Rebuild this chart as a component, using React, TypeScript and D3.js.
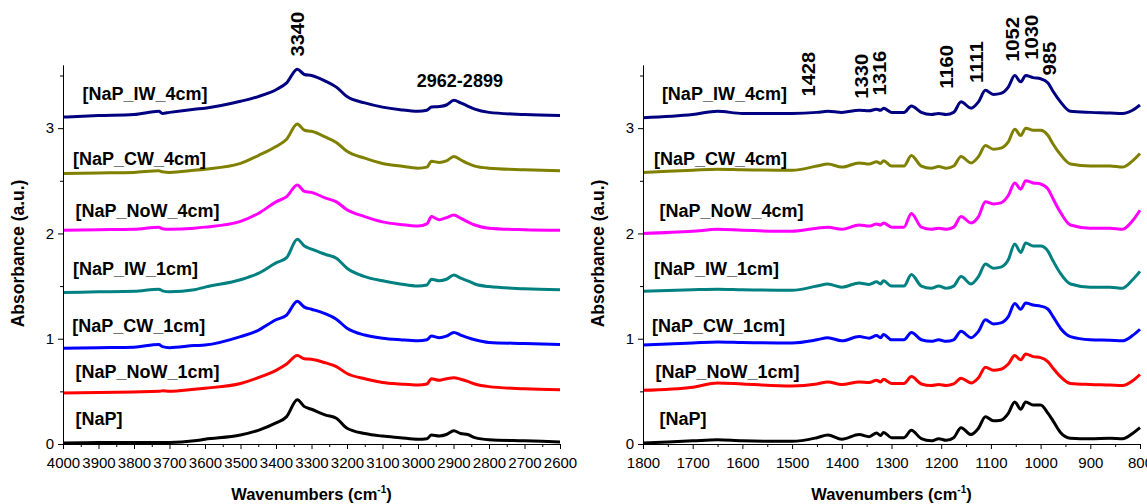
import React, { useEffect, useRef } from 'react'
import * as d3 from 'd3'

// wavenumber knots
const leftWn = [4000, 3900, 3800, 3730, 3720, 3700, 3630, 3600, 3500, 3450, 3400, 3370, 3340, 3320, 3300, 3260, 3230, 3200, 3150, 3100, 3050, 3000, 2975, 2962, 2940, 2920, 2899, 2880, 2860, 2840, 2800, 2700, 2600]
const rightWn = [1800, 1700, 1650, 1600, 1500, 1450, 1428, 1400, 1365, 1345, 1330, 1322, 1316, 1300, 1275, 1260, 1240, 1220, 1205, 1190, 1175, 1160, 1140, 1125, 1111, 1095, 1080, 1065, 1052, 1040, 1030, 1015, 1000, 985, 975, 960, 940, 900, 860, 835, 815, 800]

const seriesNames = ['[NaP]', '[NaP_NoW_1cm]', '[NaP_CW_1cm]', '[NaP_IW_1cm]', '[NaP_NoW_4cm]', '[NaP_CW_4cm]', '[NaP_IW_4cm]']
const seriesColors = ['#000000', '#ff0000', '#0000ff', '#008080', '#ff00ff', '#808000', '#000080']

// absorbance, 4000-2600 cm-1
const leftNaP = [0.01, 0.015, 0.015, 0.015, 0.015, 0.015, 0.03, 0.045, 0.085, 0.13, 0.2, 0.26, 0.42, 0.355, 0.33, 0.275, 0.245, 0.15, 0.1, 0.075, 0.06, 0.045, 0.05, 0.085, 0.075, 0.09, 0.125, 0.1, 0.09, 0.06, 0.04, 0.03, 0.02]
const leftNoW1 = [0.485, 0.49, 0.495, 0.5, 0.505, 0.5, 0.52, 0.53, 0.575, 0.63, 0.7, 0.76, 0.84, 0.81, 0.805, 0.77, 0.735, 0.67, 0.62, 0.585, 0.57, 0.56, 0.57, 0.62, 0.605, 0.62, 0.63, 0.615, 0.595, 0.57, 0.545, 0.525, 0.515]
const leftCW1 = [0.91, 0.915, 0.92, 0.945, 0.925, 0.915, 0.935, 0.94, 1.02, 1.08, 1.18, 1.225, 1.355, 1.3, 1.28, 1.235, 1.185, 1.1, 1.035, 1.005, 0.99, 0.98, 0.99, 1.025, 1.01, 1.025, 1.06, 1.035, 1.01, 0.99, 0.965, 0.955, 0.945]
const leftIW1 = [1.44, 1.445, 1.45, 1.47, 1.455, 1.445, 1.465, 1.49, 1.56, 1.62, 1.72, 1.77, 1.945, 1.88, 1.85, 1.8, 1.765, 1.67, 1.59, 1.55, 1.52, 1.5, 1.51, 1.565, 1.55, 1.565, 1.605, 1.575, 1.55, 1.52, 1.495, 1.475, 1.465]
const leftNoW4 = [2.03, 2.035, 2.04, 2.06, 2.045, 2.04, 2.05, 2.06, 2.115, 2.19, 2.3, 2.35, 2.46, 2.4, 2.39, 2.335, 2.3, 2.225, 2.16, 2.11, 2.085, 2.07, 2.09, 2.16, 2.13, 2.15, 2.175, 2.145, 2.11, 2.08, 2.05, 2.035, 2.03]
const leftCW4 = [2.57, 2.575, 2.58, 2.595, 2.585, 2.58, 2.6, 2.61, 2.665, 2.74, 2.825, 2.895, 3.04, 2.98, 2.97, 2.915, 2.865, 2.78, 2.715, 2.665, 2.64, 2.62, 2.63, 2.685, 2.675, 2.69, 2.73, 2.7, 2.665, 2.64, 2.62, 2.605, 2.595]
const leftIW4 = [3.105, 3.12, 3.13, 3.16, 3.14, 3.15, 3.18, 3.19, 3.255, 3.3, 3.365, 3.43, 3.56, 3.51, 3.5, 3.445, 3.39, 3.3, 3.24, 3.2, 3.175, 3.16, 3.17, 3.2, 3.205, 3.22, 3.265, 3.24, 3.21, 3.18, 3.15, 3.13, 3.12]

// absorbance, 1800-800 cm-1
const rightNaP = [0.01, 0.03, 0.04, 0.03, 0.025, 0.06, 0.085, 0.045, 0.09, 0.07, 0.105, 0.08, 0.11, 0.06, 0.06, 0.13, 0.05, 0.03, 0.05, 0.035, 0.06, 0.155, 0.09, 0.15, 0.26, 0.22, 0.225, 0.29, 0.4, 0.33, 0.4, 0.37, 0.37, 0.29, 0.22, 0.11, 0.055, 0.05, 0.055, 0.05, 0.1, 0.155]
const rightNoW1 = [0.51, 0.54, 0.58, 0.57, 0.55, 0.57, 0.59, 0.565, 0.59, 0.585, 0.605, 0.59, 0.615, 0.575, 0.575, 0.64, 0.57, 0.555, 0.565, 0.555, 0.57, 0.625, 0.58, 0.63, 0.73, 0.7, 0.71, 0.76, 0.84, 0.8, 0.855, 0.83, 0.82, 0.78, 0.72, 0.64, 0.575, 0.565, 0.56, 0.555, 0.6, 0.66]
const rightCW1 = [0.94, 0.96, 0.97, 0.965, 0.96, 0.99, 1.01, 0.98, 1.02, 1.005, 1.03, 1.01, 1.04, 0.99, 0.99, 1.06, 0.99, 0.975, 0.99, 0.975, 0.99, 1.07, 1.01, 1.07, 1.18, 1.14, 1.15, 1.21, 1.335, 1.28, 1.34, 1.32, 1.31, 1.28, 1.21, 1.1, 1.02, 0.99, 0.985, 0.98, 1.03, 1.09]
const rightIW1 = [1.45, 1.465, 1.47, 1.465, 1.46, 1.5, 1.52, 1.49, 1.53, 1.515, 1.54, 1.52, 1.55, 1.5, 1.5, 1.61, 1.5, 1.48, 1.5, 1.48, 1.5, 1.59, 1.52, 1.59, 1.71, 1.67, 1.68, 1.75, 1.9, 1.82, 1.91, 1.88, 1.88, 1.83, 1.74, 1.62, 1.52, 1.49, 1.49, 1.48, 1.56, 1.64]
const rightNoW4 = [2.0, 2.02, 2.04, 2.03, 2.02, 2.05, 2.06, 2.04, 2.08, 2.07, 2.09, 2.08, 2.1, 2.06, 2.06, 2.19, 2.06, 2.04, 2.05, 2.04, 2.06, 2.16, 2.1, 2.16, 2.3, 2.28, 2.29, 2.36, 2.48, 2.42, 2.5, 2.48, 2.47, 2.42, 2.33, 2.2, 2.08, 2.05, 2.05, 2.04, 2.12, 2.22]
const rightCW4 = [2.58, 2.6, 2.61, 2.605, 2.6, 2.64, 2.66, 2.63, 2.67, 2.66, 2.68, 2.665, 2.69, 2.64, 2.64, 2.74, 2.64, 2.62, 2.635, 2.62, 2.64, 2.73, 2.67, 2.73, 2.835, 2.8, 2.81, 2.87, 2.99, 2.93, 3.0, 2.98, 2.98, 2.93, 2.85, 2.75, 2.66, 2.64, 2.64, 2.63, 2.69, 2.76]
const rightIW4 = [3.1, 3.13, 3.16, 3.14, 3.14, 3.15, 3.16, 3.15, 3.17, 3.165, 3.18, 3.17, 3.19, 3.15, 3.15, 3.21, 3.15, 3.13, 3.14, 3.13, 3.15, 3.25, 3.19, 3.25, 3.36, 3.32, 3.33, 3.39, 3.5, 3.44, 3.5, 3.48, 3.47, 3.43, 3.35, 3.25, 3.16, 3.15, 3.145, 3.14, 3.17, 3.22]

const leftSeries = [leftNaP, leftNoW1, leftCW1, leftIW1, leftNoW4, leftCW4, leftIW4]
const rightSeries = [rightNaP, rightNoW1, rightCW1, rightIW1, rightNoW4, rightCW4, rightIW4]

// label anchors in data units [wavenumber, absorbance]
const leftLabelAt = [[3965, 0.18], [3965, 0.625], [3974, 1.067], [3972, 1.61], [3965, 2.16], [3972, 2.65], [3945, 3.27]]
const rightLabelAt = [[1767, 0.18], [1775, 0.625], [1782, 1.067], [1778, 1.61], [1767, 2.16], [1778, 2.65], [1762, 3.27]]

// band assignments
const leftBands = [{ text: '3340', wn: 3340, a: 3.68 }]
const rightBands = [
  { text: '1428', wn: 1467, a: 3.3 },
  { text: '1330', wn: 1360, a: 3.28 },
  { text: '1316', wn: 1325, a: 3.31 },
  { text: '1160', wn: 1189, a: 3.375 },
  { text: '1111', wn: 1128, a: 3.43 },
  { text: '1052', wn: 1057, a: 3.63 },
  { text: '1030', wn: 1019, a: 3.65 },
  { text: '985', wn: 982, a: 3.5 },
]

const W = 1147
const H = 504
const top = 65
const bottom = 444
const font = 'Arial, "Liberation Sans", sans-serif'

const Panel = ({ wn, series, domain, x0, x1, labelAt, bands, extra }) => {
  const axRef = useRef(null)
  const x = d3.scaleLinear().domain(domain).range([x0, x1])
  const y = d3.scaleLinear().domain([0, 3.6]).range([bottom, top])

  useEffect(() => {
    const g = d3.select(axRef.current)
    g.selectAll('*').remove()
    const major = d3.range(domain[1], domain[0] + 1, 100)
    const minor = d3.range(domain[1] + 50, domain[0], 100)

    const xa = g.append('g').attr('transform', `translate(0,${bottom})`)
    xa.call(d3.axisBottom(x).tickValues(major).tickFormat(d3.format('d')).tickSize(5).tickSizeOuter(0).tickPadding(8))
    xa.append('g').call(d3.axisBottom(x).tickValues(minor).tickFormat(() => '').tickSize(3).tickSizeOuter(0))
    xa.selectAll('text').attr('font-size', 15).attr('font-family', font).attr('fill', '#000')

    const ya = g.append('g').attr('transform', `translate(${x0},0)`)
    ya.call(d3.axisLeft(y).tickValues([0, 1, 2, 3]).tickFormat(d3.format('d')).tickSize(5).tickSizeOuter(0).tickPadding(4))
    ya.append('g').call(d3.axisLeft(y).tickValues([0.5, 1.5, 2.5, 3.5]).tickFormat(() => '').tickSize(3).tickSizeOuter(0))
    ya.selectAll('text').attr('font-size', 15).attr('font-family', font).attr('fill', '#000')
    g.selectAll('.domain').attr('stroke', '#000')
    g.selectAll('line').attr('stroke', '#000')
  }, [])

  const line = d3
    .line()
    .x((d) => x(d[0]))
    .y((d) => y(d[1]))
    .curve(d3.curveMonotoneX)

  const cx = (x0 + x1) / 2

  return (
    <g>
      {series.map((vals, i) => (
        <path
          key={i}
          d={line(wn.map((w, j) => [w, vals[j]]))}
          fill="none"
          stroke={seriesColors[i]}
          strokeWidth={3}
          strokeLinejoin="round"
        />
      ))}
      <g ref={axRef} />
      {seriesNames.map((name, i) => (
        <text key={name} x={x(labelAt[i][0])} y={y(labelAt[i][1])} fontSize={18} fontWeight="bold" fontFamily={font}>
          {name}
        </text>
      ))}
      {bands.map((b) => (
        <text
          key={b.text}
          transform={`translate(${x(b.wn)},${y(b.a)}) rotate(-90) scale(1.12,1)`}
          dy="0.36em"
          fontSize={18}
          fontWeight="bold"
          fontFamily={font}
        >
          {b.text}
        </text>
      ))}
      {extra && extra(x, y)}
      <text x={cx} y={500} textAnchor="middle" fontSize={16.5} fontWeight="bold" fontFamily={font}>
        Wavenumbers (cm
        <tspan dy={-7} fontSize={10}>
          -1
        </tspan>
        <tspan dy={7}>)</tspan>
      </text>
      <text
        transform={`translate(${x0 - 39},${y(1.81)}) rotate(-90)`}
        textAnchor="middle"
        fontSize={17.5}
        fontWeight="bold"
        fontFamily={font}
      >
        Absorbance (a.u.)
      </text>
    </g>
  )
}

export default function App() {
  return (
    <svg width={W} height={H} style={{ position: 'absolute', left: 0, top: 0, background: '#fff' }}>
      <rect width={W} height={H} fill="#fff" />
      <Panel
        wn={leftWn}
        series={leftSeries}
        domain={[4000, 2600]}
        x0={63}
        x1={560}
        labelAt={leftLabelAt}
        bands={leftBands}
        extra={(x, y) => (
          <text x={x(2882)} y={y(3.39)} textAnchor="middle" fontSize={18} fontWeight="bold" fontFamily={font}>
            2962-2899
          </text>
        )}
      />
      <Panel
        wn={rightWn}
        series={rightSeries}
        domain={[1800, 800]}
        x0={643}
        x1={1140}
        labelAt={rightLabelAt}
        bands={rightBands}
      />
    </svg>
  )
}
